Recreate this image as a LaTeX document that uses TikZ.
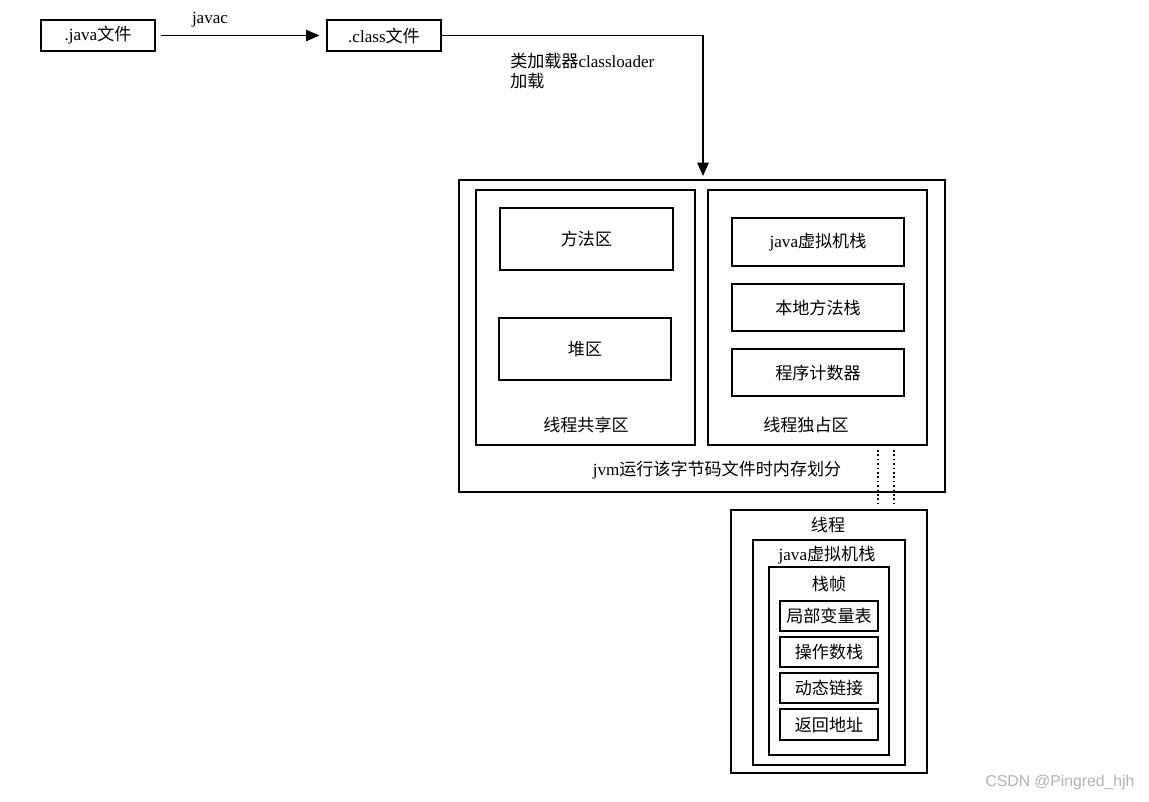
\documentclass[tikz,border=0pt]{standalone}
\usepackage{fontspec}
\setmainfont{Liberation Serif}
\newfontfamily\zh{Noto Sans CJK SC}
\usetikzlibrary{arrows.meta,fit}
\begin{document}
\begin{tikzpicture}[x=0.75pt,y=-0.75pt,
  box/.style={draw,line width=1.4pt,inner sep=0pt},
  txt/.style={font=\fontsize{12.8}{15}\selectfont,inner sep=0pt},
  arr/.style={line width=1.2pt,-{Triangle[length=10pt,width=8.5pt]}},
  dots/.style={line width=1.3pt,dotted}]
\useasboundingbox (0,0) rectangle (1149,801);
% top row
\node[box,fit={(41,20)(155,51)}] (java) {};
\node[txt] (javat) at (java.center) {.java{\zh 文件}};
\node[box,fit={(327,20)(441,51)}] (cls) {};
\node[txt] (clst) at (cls.center) {.class{\zh 文件}};
\node[txt] (javac) at (210,20) {javac};
\draw[arr] (java.east) ++(5,0) coordinate (a0) -- ([xshift=-5pt]cls.west);
\coordinate (endpt) at (703,176);
\draw[arr] (cls.east) -| (endpt);
\node[txt,anchor=west] (cl1) at (510,61) {{\zh 类加载器}classloader};
\node[txt,anchor=west] (cl2) at (510,81) {\zh 加载};
% jvm box
\node[box,fit={(459,180)(945,492)}] (jvm) {};
\node[box,fit={(476,190)(695,445)}] (shared) {};
\node[box,fit={(500,208)(673,270)}] (method) {};
\node[txt] at (method.center) {\zh 方法区};
\node[box,fit={(499,318)(671,380)}] (heap) {};
\node[txt] at (heap.center) {\zh 堆区};
\node[txt] (sharedt) at (586,425) {\zh 线程共享区};
\node[box,fit={(708,190)(927,445)}] (priv) {};
\node[box,fit={(732,218)(904,266)}] (vms) {};
\node[txt] at (vms.center) {java{\zh 虚拟机栈}};
\node[box,fit={(732,284)(904,331)}] (nms) {};
\node[txt] at (nms.center) {\zh 本地方法栈};
\node[box,fit={(732,349)(904,396)}] (pc) {};
\node[txt] at (pc.center) {\zh 程序计数器};
\node[txt] (privt) at (806,425) {\zh 线程独占区};
\node[txt] (jvmt) at (717,470) {jvm{\zh 运行该字节码文件时内存划分}};
% thread box
\node[box,fit={(731,510)(927,773)}] (thread) {};
\node[txt] (threadt) at (828,525) {\zh 线程};
\node[box,fit={(753,540)(905,765)}] (tvms) {};
\node[txt] (tvmst) at (827,555) {java{\zh 虚拟机栈}};
\node[box,fit={(769,567)(889,755)}] (frame) {};
\node[txt] (framet) at (829,584) {\zh 栈帧};
\node[box,fit={(780,601)(878,631)}] (lv) {};
\node[txt] at (lv.center) {\zh 局部变量表};
\node[box,fit={(780,637)(878,667)}] (os) {};
\node[txt] at (os.center) {\zh 操作数栈};
\node[box,fit={(780,673)(878,703)}] (dl) {};
\node[txt] at (dl.center) {\zh 动态链接};
\node[box,fit={(780,709)(878,740)}] (ra) {};
\node[txt] at (ra.center) {\zh 返回地址};
% dotted connectors
\draw[dots,shorten <=3pt,shorten >=3pt] (priv.south -| 878,0) -- (thread.north -| 878,0);
\draw[dots,shorten <=3pt,shorten >=3pt] (priv.south -| 894,0) -- (thread.north -| 894,0);
% watermark
\node[font=\fontspec{Liberation Sans}\fontsize{11.8}{13}\selectfont,text=gray!60,inner sep=0pt] (wm) at (1060,782) {CSDN @Pingred\_hjh};
\end{tikzpicture}
\end{document}
